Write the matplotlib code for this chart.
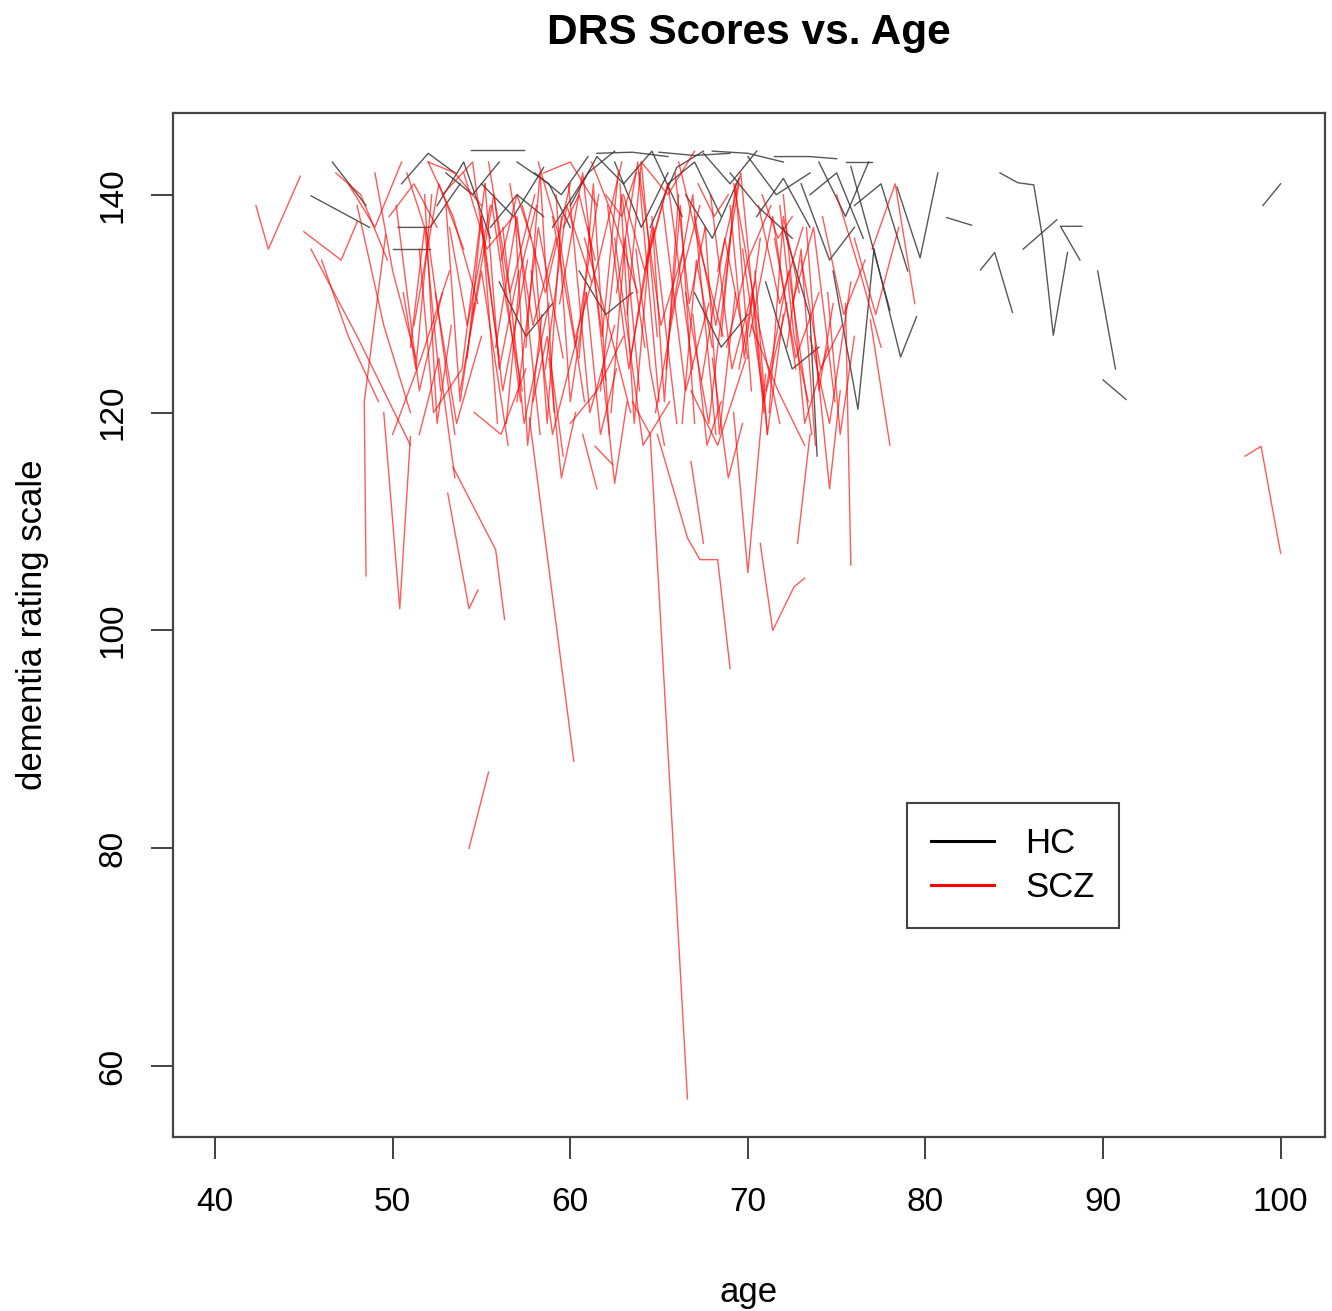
import matplotlib
matplotlib.use("Agg")
import matplotlib.pyplot as plt

plt.rcParams['font.family'] = ['Liberation Sans', 'DejaVu Sans']

# healthy controls: one list of ages and one of DRS scores per subject
hc_ages = [
    [45.4, 48.7], [46.6, 48.5], [50.0, 52.1], [50.3, 52.1, 53.8],
    [50.5, 52.0, 53.5], [54.4, 57.4], [52.5, 54.0, 55.5], [55.0, 56.8, 58.5],
    [57.0, 58.8, 60.0], [59.0, 61.0, 62.5], [61.5, 63.5, 65.5], [63.0, 64.6, 66.3],
    [64.5, 66.0, 67.5], [65.0, 67.0, 69.0], [66.5, 68.0, 69.5], [68.0, 70.0, 72.0],
    [69.0, 70.5, 72.5], [70.0, 71.6, 73.5], [71.5, 73.5, 75.0], [72.0, 73.5, 73.9],
    [73.0, 74.6, 76.0], [74.0, 75.5, 76.8], [74.8, 76.2, 77.1], [75.8, 78.0],
    [77.1, 78.6, 79.5], [78.4, 79.7, 80.7], [75.5, 77.0], [60.5, 62.0, 63.5],
    [67.0, 68.5, 70.0], [56.0, 57.5, 59.0], [71.0, 72.5, 74.0], [81.2, 82.6],
    [83.1, 83.9, 84.9], [84.2, 85.2, 86.1, 86.6, 87.2, 88.0], [85.5, 87.4],
    [88.8, 87.6, 88.7], [89.7, 90.7], [90.0, 91.3], [99.0, 100.0],
    [58.0, 59.5, 61.0], [60.0, 61.5, 63.0], [62.5, 64.0, 65.5], [65.5, 67.0, 68.5],
    [67.5, 69.0, 70.5], [70.5, 72.0, 73.5], [73.5, 75.0, 76.5], [76.0, 77.5, 79.0],
    [53.0, 54.5, 56.0], [55.5, 57.0, 58.5],
]
hc_scores = [
    [139.9, 137], [143, 139], [135, 135], [137, 137, 141],
    [141, 143.8, 142], [144.1, 144.1], [139, 143, 136], [141, 138, 142.5],
    [143, 141, 137], [137, 142, 144], [143.8, 143.9, 143.5], [141, 144, 138],
    [137, 142.5, 144], [143.9, 143.6, 143.8], [140, 136, 141.5], [144, 143.8, 143],
    [142, 139, 136], [143.5, 140, 142], [143.5, 143.5, 143.3], [137, 128.8, 116],
    [141, 134, 137], [143, 138, 143], [133, 120.3, 135], [142.6, 129.4],
    [135, 125.1, 128.8], [140.7, 134.2, 142], [143, 143], [133, 129, 131],
    [131, 126, 129], [132, 127, 130], [132, 124, 126], [137.9, 137.2],
    [133.1, 134.7, 129.2], [142, 141.1, 140.9, 136, 127.1, 134.7], [135, 137.7],
    [137.1, 137.1, 134], [133, 124], [123, 121.2], [139, 141],
    [142, 140, 143.5], [139, 143.5, 141], [143, 137, 142], [141, 143, 138],
    [143.8, 141, 144], [138, 141.5, 137], [140, 142, 136], [139, 141, 133],
    [142, 140, 143], [137, 140, 138],
]

# schizophrenia patients
scz_ages = [
    [42.3, 43.0, 44.8], [45.0, 47.1, 48.0], [45.4, 48.0, 51.0], [48.5, 48.4, 49.6],
    [49.5, 50.4, 51.0], [53.1, 54.3, 54.8], [53.4, 55.8, 56.3], [54.3, 55.4],
    [57.7, 60.2], [63.5, 64.5, 66.6], [64.9, 66.6, 67.3, 68.3, 69.0], [66.8, 67.5],
    [69.2, 70.0, 71.0], [70.7, 71.4, 72.6, 73.2], [75.5, 75.8], [72.8, 73.5],
    [76.9, 78.0], [60.7, 61.5], [61.4, 62.4], [98.0, 98.9, 100.0],
    [50.2, 51.5, 52.8], [50.8, 52.0, 53.5], [51.2, 52.6, 54.0], [51.5, 52.3, 53.9, 55.2],
    [52.0, 53.4, 54.8], [52.4, 53.6, 55.0], [52.8, 54.5, 56.0], [53.2, 54.2, 55.5],
    [53.8, 55.0, 56.5], [54.0, 55.3, 56.8], [54.5, 55.7, 57.2], [55.0, 56.2, 57.6],
    [55.4, 56.6, 58.0], [55.8, 57.0, 58.3], [56.2, 57.4, 58.8], [56.6, 57.9, 59.2],
    [57.0, 58.2, 59.6], [57.3, 58.6, 60.0], [57.8, 59.0, 60.4], [58.2, 59.4, 60.8],
    [58.6, 59.8, 61.2], [59.0, 60.3, 61.6], [59.4, 60.7, 62.0], [59.9, 61.1, 62.5],
    [60.3, 61.6, 62.9], [60.8, 62.0, 63.4], [61.2, 62.4, 63.8], [61.7, 62.9, 64.2],
    [62.1, 63.3, 64.6], [62.6, 63.8, 65.0], [63.0, 64.2, 65.5], [63.4, 64.7, 66.0],
    [63.9, 65.1, 66.4], [64.3, 65.5, 66.9], [64.8, 66.0, 67.3], [65.2, 66.5, 67.8],
    [65.6, 66.9, 68.2], [66.1, 67.3, 68.6], [66.5, 67.8, 69.1], [67.0, 68.2, 69.5],
    [67.4, 68.7, 70.0], [67.9, 69.1, 70.4], [68.3, 69.6, 70.9], [68.8, 70.0, 71.3],
    [69.2, 70.5, 71.8], [69.7, 70.9, 72.2], [70.1, 71.4, 72.7], [70.6, 71.8, 73.1],
    [71.0, 72.3, 73.6], [71.5, 72.7, 74.0], [72.0, 73.2, 74.5], [72.5, 73.7, 74.9],
    [73.0, 74.1, 75.3], [73.5, 74.6, 75.8], [74.2, 75.4, 76.6], [75.0, 76.3, 77.5],
    [76.0, 77.2, 78.5], [77.0, 78.3, 79.4], [46.8, 48.2, 49.7], [47.5, 49.0, 50.5],
    [49.8, 51.2, 52.5], [52.0, 53.5, 55.0], [58.5, 60.0, 61.5], [64.0, 65.5, 67.0],
    [50.0, 51.6, 53.2], [54.6, 56.1, 57.5], [60.0, 61.5, 63.0], [62.5, 64.1, 65.6],
    [66.8, 68.3, 69.9], [70.2, 71.7, 73.2],
    [55.2, 56.0, 57.1], [56.9, 57.6, 58.4], [57.5, 58.3, 59.1], [58.0, 58.7, 59.5],
    [59.2, 60.0, 60.9], [60.5, 61.3, 62.2], [61.0, 61.8, 62.7], [62.3, 63.1, 63.9],
    [62.8, 63.6, 64.4], [63.2, 64.0, 64.9], [64.6, 65.3, 66.1], [65.4, 66.2, 67.0],
    [65.9, 66.7, 67.6], [66.3, 67.1, 68.0], [67.6, 68.4, 69.3], [68.5, 69.3, 70.2],
    [69.0, 69.8, 70.7], [70.4, 71.1, 72.0], [71.2, 72.0, 72.9], [71.8, 72.6, 73.4],
    [72.2, 73.0, 73.8], [73.3, 74.0, 74.8], [74.5, 75.2, 76.0], [53.0, 53.8, 54.6],
    [54.2, 55.0, 55.9], [55.6, 56.4, 57.3], [56.4, 57.2, 58.1], [51.0, 51.8, 52.7],
    [51.8, 52.5, 53.3], [50.6, 51.3, 52.2], [57.9, 58.7, 59.6], [60.9, 61.7, 62.6],
    [63.7, 64.5, 65.3], [66.9, 67.7, 68.5], [69.5, 70.3, 71.1], [56.1, 57.0, 57.8],
    [59.6, 60.5, 61.4], [62.0, 62.9, 63.7], [67.2, 68.1, 68.9], [70.8, 71.7, 72.5],
    [46.0, 47.5, 49.2], [48.0, 49.5, 51.0], [49.0, 50.0, 51.3], [51.5, 52.6, 53.5],
    [58.8, 59.5, 60.3], [61.8, 62.5, 63.2], [68.0, 68.9, 69.7], [73.8, 74.6, 75.2],
]
scz_scores = [
    [139, 135, 141.7], [136.6, 134, 137.5], [135, 127, 117], [105, 121, 136.3],
    [120, 102, 117.8], [112.6, 102, 103.7], [115, 107.4, 101], [80, 87],
    [119.5, 88], [121, 118, 57], [118, 108.5, 106.5, 106.5, 96.5], [115.5, 108],
    [120, 105.3, 123.5], [108, 100, 104, 104.8], [130, 106], [108, 118],
    [128.5, 117], [118, 113], [116.9, 115.2], [116, 116.9, 107.1],
    [139, 122, 131], [142, 136, 118], [128, 141, 135], [135, 120, 124, 141],
    [143, 138, 130], [131, 119, 127], [140, 143, 125], [137, 128, 139],
    [122, 133, 117], [142, 135, 138], [129, 140, 121], [138, 122, 134],
    [143, 131, 140], [126, 138, 118], [137, 119, 130], [141, 128, 136],
    [121, 137, 125], [139, 131, 141], [133, 118, 127], [143, 136, 121],
    [124, 139, 132], [138, 126, 140], [130, 142, 123], [141, 120, 128],
    [127, 134, 143], [136, 129, 120], [143, 138, 131], [122, 140, 126],
    [139, 124, 137], [131, 143, 121], [140, 133, 141], [125, 137, 119],
    [142, 128, 135], [134, 141, 124], [120, 131, 139], [139, 122, 130],
    [128, 140, 118], [143, 135, 127], [131, 119, 137], [138, 128, 141],
    [123, 136, 125], [140, 124, 132], [133, 142, 120], [126, 134, 139],
    [141, 129, 119], [135, 121, 130], [127, 138, 124], [139, 130, 137],
    [122, 133, 118], [136, 125, 131], [140, 119, 126], [130, 137, 121],
    [134, 124, 128], [127, 119, 132], [138, 129, 134], [140, 133, 126],
    [136, 129, 137], [135, 141, 130], [142, 140, 134], [141, 137, 143],
    [138, 141, 137], [143, 142, 139], [142, 143, 139], [143, 140, 144],
    [118, 125, 133], [120, 118, 124], [119, 122, 127], [136, 117, 121],
    [122, 117, 125], [128, 122, 117],
    [141, 124, 133], [138, 117, 129], [126, 142, 120], [135, 119, 138],
    [140, 121, 131], [125, 141, 118], [137, 127, 142], [120, 136, 122],
    [141, 119, 134], [129, 143, 127], [138, 121, 140], [124, 139, 119],
    [142, 130, 137], [119, 134, 126], [137, 118, 131], [127, 141, 122],
    [139, 125, 136], [133, 118, 129], [120, 138, 131], [139, 127, 121],
    [126, 135, 117], [137, 122, 130], [131, 118, 127], [139, 121, 130],
    [125, 138, 119], [139, 130, 122], [119, 133, 139], [126, 137, 122],
    [140, 119, 128], [131, 124, 140], [121, 127, 116], [131, 118, 124],
    [135, 124, 117], [129, 117, 121], [124, 131, 118], [134, 140, 136],
    [137, 140, 134], [140, 138, 142], [141, 138, 140], [140, 136, 138],
    [134, 127, 121], [139, 128, 120], [142, 133, 125], [118, 125, 114],
    [125, 114, 120], [124, 113.5, 121], [125, 114, 119], [126, 113, 122],
]

fig = plt.figure(figsize=(13.32, 13.11), dpi=100)
ax = fig.add_axes([173/1332, 174/1311, 1152/1332, 1024/1311])

for a, s in zip(hc_ages, hc_scores):
    ax.plot(a, s, color='#3a3a3a', lw=1.0, alpha=0.85)
for a, s in zip(scz_ages, scz_scores):
    ax.plot(a, s, color='red', lw=1.0, alpha=0.65)

ax.set_xlim(37.63, 102.5)
ax.set_ylim(53.5, 147.5)
ax.set_xticks([40, 50, 60, 70, 80, 90, 100])
ax.set_yticks([60, 80, 100, 120, 140])
ax.tick_params(length=16, width=1.3, labelsize=24, color='#333333')
ax.tick_params(axis='x', pad=20)
ax.tick_params(axis='y', pad=16)
for lab in ax.get_yticklabels():
    lab.set_rotation(90)
    lab.set_va('center')
for sp in ax.spines.values():
    sp.set_linewidth(1.6)
    sp.set_color('#444444')

ax.set_xlabel('age', fontsize=25, labelpad=42)
ax.set_ylabel('dementia rating scale', fontsize=25, labelpad=35)
ax.set_title('DRS Scores vs. Age', fontsize=30.5, fontweight='bold', pad=50)

h1, = ax.plot([], [], color='black', lw=2.2)
h2, = ax.plot([], [], color='red', lw=2.2)
leg = ax.legend([h1, h2], ['HC', 'SCZ'], loc='upper left',
                bbox_to_anchor=(0.622, 0.343), fontsize=25, fancybox=False,
                framealpha=1, edgecolor='#444444', handlelength=1.8,
                handletextpad=0.9, borderpad=0.7, labelspacing=0.3)
leg.get_frame().set_linewidth(1.5)

fig.savefig('out.png', dpi=100)
